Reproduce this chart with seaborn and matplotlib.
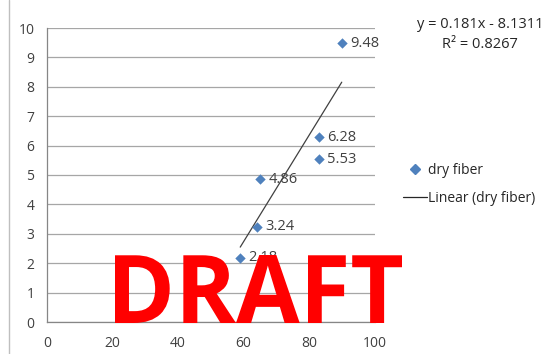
import matplotlib
matplotlib.use("Agg")
import matplotlib.pyplot as plt
from matplotlib.lines import Line2D
from matplotlib.textpath import TextPath
from matplotlib.patches import PathPatch
from matplotlib.font_manager import FontProperties
from matplotlib.transforms import Affine2D
import seaborn as sns
import pandas as pd

x_vals = [59, 64, 65, 83, 83, 90]
y_vals = [2.18, 3.24, 4.86, 6.28, 5.53, 9.48]
point_labels = ["2.18", "3.24", "4.86", "6.28", "5.53", "9.48"]
x_ticks = [0, 20, 40, 60, 80, 100]
y_ticks = list(range(0, 11))
series_name = "dry fiber"
trend_name = "Linear (dry fiber)"
equation = "y = 0.181x - 8.1311"
r2_text = "R² = 0.8267"
watermark = "DRAFT"

df = pd.DataFrame({"x": x_vals, "y": y_vals})

sns.set_style("white")
plt.rcParams['font.family'] = ['Open Sans', 'DejaVu Sans']

W, H = 547, 354
fig = plt.figure(figsize=(W/100, H/100), dpi=100)
ax = fig.add_axes([47/W, 1-322/H, 327.5/W, 294/H])

blue = "#4F81BD"
sns.regplot(data=df, x="x", y="y", scatter=False, ci=None, truncate=True,
            line_kws=dict(color="#404040", lw=0.9), ax=ax)
sns.scatterplot(data=df, x="x", y="y", marker="D", s=28, color=blue,
                edgecolor=blue, linewidth=0, ax=ax, zorder=3)

for xv, yv, lab in zip(x_vals, y_vals, point_labels):
    ax.annotate(lab, (xv, yv), xytext=(6, 0), textcoords="offset points",
                va="center", ha="left", fontsize=10.5, color="#404040")

ax.set_xlim(0, 100)
ax.set_ylim(0, 10)
ax.set_xticks(x_ticks)
ax.set_yticks(y_ticks)
ax.set_xlabel("")
ax.set_ylabel("")
ax.yaxis.grid(True, color="#A6A6A6", lw=0.9)
ax.xaxis.grid(False)
for s in ["top", "right"]:
    ax.spines[s].set_visible(False)
for s in ["left", "bottom"]:
    ax.spines[s].set_color("#868686")
    ax.spines[s].set_linewidth(0.9)
ax.tick_params(axis="both", which="both", length=4, width=0.9, color="#868686",
               labelsize=10, labelcolor="#404040", direction="out")
ax.tick_params(axis="x", pad=6)
ax.tick_params(axis="y", pad=5)
ax.set_axisbelow(True)

fig.text(480/W, 1-25/H, equation, ha="center", va="center", fontsize=10.5, color="#262626")
fig.text(480/W, 1-45/H, r2_text, ha="center", va="center", fontsize=10.5, color="#262626")

handles = [Line2D([], [], marker="D", ls="none", color=blue, markersize=5),
           Line2D([], [], color="#262626", lw=0.9)]
fig.legend(handles, [series_name, trend_name], loc="upper left",
           bbox_to_anchor=(403/W, 1-163/H), frameon=False, fontsize=10,
           handlelength=1.7, handletextpad=0.1, labelspacing=0.9,
           labelcolor="#262626", borderaxespad=0, borderpad=0)

fig.add_artist(Line2D([9/W, 9/W], [0, 1], color="#BFBFBF", lw=1, transform=fig.transFigure))

# watermark fitted to the box it occupies in the reference
tp = TextPath((0, 0), watermark, size=100,
              prop=FontProperties(family="Open Sans", weight="bold"))
ext = tp.get_extents()
x0, x1, ytop, ybot = 115, 402, 255, 323
sx = (x1 - x0) / ext.width / W
sy = (ybot - ytop) / ext.height / H
tr = (Affine2D().translate(-ext.x0, -ext.y0).scale(sx, sy)
      .translate(x0 / W, 1 - ybot / H))
patch = PathPatch(tr.transform_path(tp), facecolor="#FF0000", edgecolor="none",
                  transform=fig.transFigure, zorder=10)
fig.add_artist(patch)

fig.savefig("out.png", dpi=100)
